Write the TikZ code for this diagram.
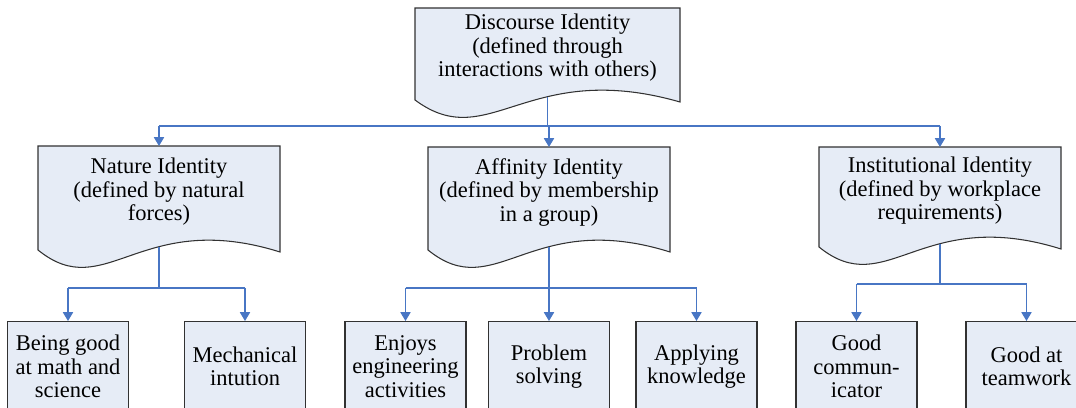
\documentclass[tikz,border=0pt]{standalone}
\usepackage[RGB]{xcolor}
\usepackage{tikz}
\usetikzlibrary{arrows.meta}
\usepackage{fontspec}
\setmainfont{Liberation Serif}
\definecolor{paleblue}{RGB}{230,236,246}
\definecolor{wireblue}{RGB}{72,118,196}
\definecolor{edgegray}{RGB}{50,50,50}
\tikzset{
  shapeline/.style={draw=edgegray, line width=0.6pt, fill=paleblue},
  doctext/.style={align=center, font=\fontsize{12.8}{13.4}\selectfont, inner sep=0pt},
  leafbox/.style={shapeline, align=center, font=\fontsize{12.8}{13.4}\selectfont,
    minimum width=2.42cm, minimum height=1.8cm, inner sep=0pt, anchor=north},
  wire/.style={draw=wireblue, line width=0.6pt},
  arrowwire/.style={wire, -{Triangle[width=5.8pt,length=5pt]}}
}
% document shape: #1 name, #2 left, #3 top, #4 right, #5 bottom of the sides, #6 text
\newcommand{\docbox}[6]{
  \draw[shapeline] (#2,#5) -- (#2,#3) -- (#4,#3) -- (#4,#5+2)
    .. controls ({#2+0.42*(#4-#2)},#5-42) and ({#2+0.28*(#4-#2)},#5+55) .. (#2,#5) -- cycle;
  \node[doctext] (#1) at ({(#2+#4)/2},{(#3+#5)/2-6}) {#6};
  \coordinate (#1-t) at ({(#2+#4)/2},#3);
  \coordinate (#1-b) at ({(#2+#4)/2},#5-3);
}

\begin{document}
\begin{tikzpicture}[x=0.02cm, y=-0.02cm]
\useasboundingbox (0,0) rectangle (1076,408);
\clip (0,0) rectangle (1076,408);
\docbox{disc}{415}{8}{680}{100}{Discourse Identity\\(defined through\\interactions with others)}
\docbox{nat}{38}{146}{280}{250}{Nature Identity\\(defined by natural\\forces)}
\docbox{aff}{428}{147}{670}{250}{Affinity Identity\\(defined by membership\\in a group)}
\docbox{inst}{819}{147}{1061}{247}{Institutional Identity\\(defined by workplace\\requirements)}

\node[leafbox] (math) at (68,321) {Being good\\at math and\\science};
\node[leafbox] (mech) at (245,321) {Mechanical\\intution};
\node[leafbox] (enjoy) at (405.5,321) {Enjoys\\engineering\\activities};
\node[leafbox] (solve) at (549,321) {Problem\\solving};
\node[leafbox] (apply) at (696.5,321) {Applying\\knowledge};
\node[leafbox] (talk) at (856.5,321) {Good\\commun-\\icator};
\node[leafbox] (team) at (1026.5,321) {Good at\\teamwork};

\coordinate (topbus) at (547.5,126);
\coordinate (natbus) at (159,288);
\coordinate (affbus) at (549,288);
\coordinate (instbus) at (940,284);

\draw[wire] (disc-b) -- (topbus);
\draw[wire] (topbus -| nat-t) -- (topbus -| inst-t);
\foreach \n in {nat,aff,inst}
  \draw[arrowwire] (topbus -| \n-t) -- (\n-t);

\draw[wire] (nat-b) -- (natbus);
\draw[wire] (natbus -| math) -- (natbus -| mech);
\foreach \n in {math,mech}
  \draw[arrowwire] (natbus -| \n) -- (\n);

\draw[wire] (aff-b) -- (affbus);
\draw[wire] (affbus -| enjoy) -- (affbus -| apply);
\foreach \n in {enjoy,solve,apply}
  \draw[arrowwire] (affbus -| \n) -- (\n);

\draw[wire] (inst-b) -- (instbus);
\draw[wire] (instbus -| talk) -- (instbus -| team);
\foreach \n in {talk,team}
  \draw[arrowwire] (instbus -| \n) -- (\n);
\end{tikzpicture}
\end{document}
